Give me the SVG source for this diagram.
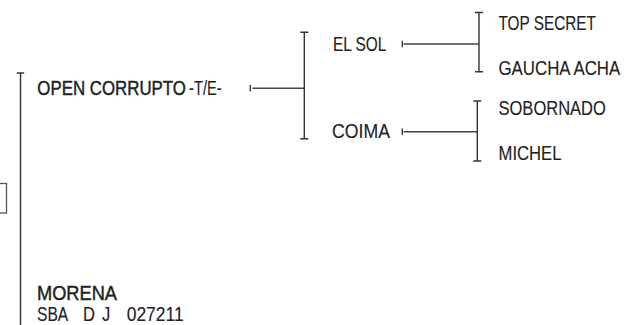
<svg xmlns="http://www.w3.org/2000/svg" width="626" height="325" viewBox="0 0 626 325">
<style>
.t{font-family:"Liberation Sans",Arial,sans-serif;font-size:19.5px;fill:#222;stroke:#222;stroke-width:0.12px}
.b{stroke-width:0.45px}
.ln{stroke:#333;stroke-width:1.4;fill:none}
.cn{stroke:#444;stroke-width:1.5;fill:none}
</style>
<rect width="626" height="325" fill="#fff"/>
<g id="connectors">
  <path class="ln" d="M20.5 73V325M16.8 73H24.2"/>
  <path class="cn" d="M250.3 85V91.6M252.5 88.3H304.3"/>
  <path class="ln" d="M304.3 32.3V138.8M300.3 32.3H308.3M300.3 138.8H308.3"/>
  <path class="cn" d="M402.3 40.7V47.3M403.5 44H479"/>
  <path class="ln" d="M479 12.5V71.7M475 12.5H483M475 71.7H483"/>
  <path class="cn" d="M402.3 128.4V135M403.5 131.7H477.3"/>
  <path class="ln" d="M477.3 101V161M473.3 101H481.3M473.3 161H481.3"/>
</g>
<g id="box">
  <rect x="-2" y="183.5" width="8.5" height="29.5" fill="none" stroke="#555" stroke-width="1.3"/>
</g>
<g id="open-corrupto">
  <text class="t b" transform="translate(37.3,94.5) scale(0.865,1)">OPEN CORRUPTO</text>
  <text class="t" transform="translate(189,94.5) scale(0.755,1)">-T/E-</text>
</g>
<g id="el-sol">
  <text class="t" transform="translate(333,51) scale(0.791,1)">EL SOL</text>
</g>
<g id="coima">
  <text class="t" transform="translate(332,137.6) scale(0.907,1)">COIMA</text>
</g>
<g id="top-secret">
  <text class="t" transform="translate(498.5,30) scale(0.787,1)">TOP SECRET</text>
</g>
<g id="gaucha-acha">
  <text class="t" transform="translate(498.5,75) scale(0.865,1)">GAUCHA ACHA</text>
</g>
<g id="sobornado">
  <text class="t" transform="translate(498.5,114.5) scale(0.848,1)">SOBORNADO</text>
</g>
<g id="michel">
  <text class="t" transform="translate(498.5,160) scale(0.855,1)">MICHEL</text>
</g>
<g id="morena">
  <text class="t b" transform="translate(37,300.3) scale(0.935,1)">MORENA</text>
  <text class="t" transform="translate(37,320.5) scale(0.8,1)">SBA</text>
  <text class="t" transform="translate(83,320.5) scale(0.85,1)" word-spacing="3">D J</text>
  <text class="t" transform="translate(126.7,320.5) scale(0.896,1)">027211</text>
</g>
</svg>
